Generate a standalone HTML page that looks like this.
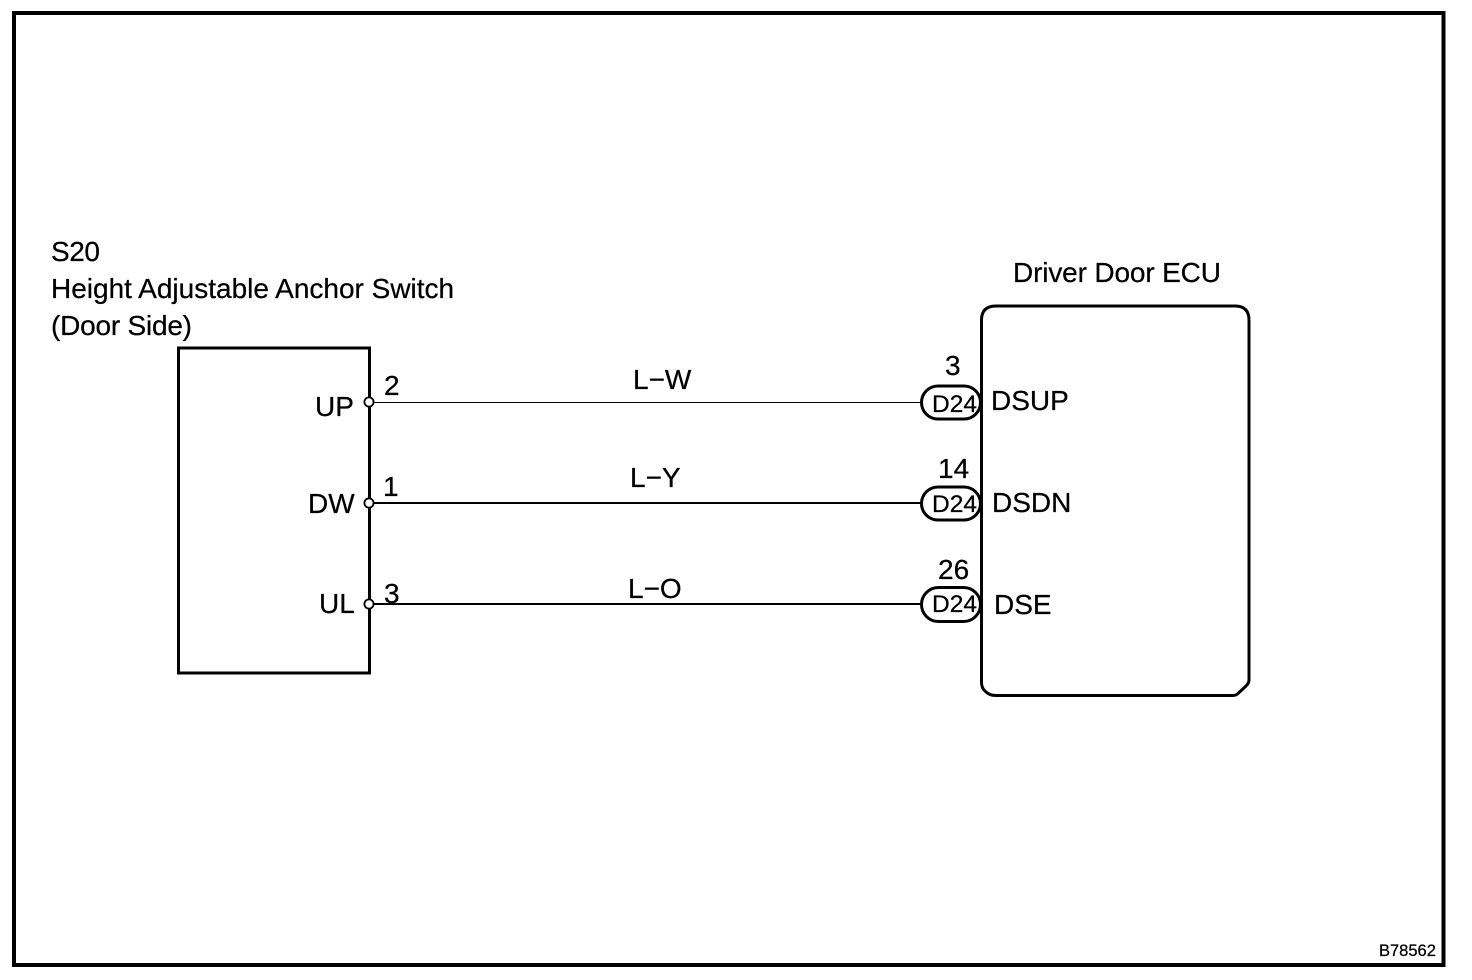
<!DOCTYPE html>
<html><head><meta charset="utf-8"><style>
html,body{margin:0;padding:0;background:#fff}
svg{display:block}
text{font-family:"Liberation Sans",sans-serif;fill:#000;stroke:#000;stroke-width:.25px;font-size:28px}
</style></head><body>
<svg width="1472" height="980" viewBox="0 0 1472 980" xmlns="http://www.w3.org/2000/svg">
<rect width="1472" height="980" fill="#fff"/>
<g shape-rendering="crispEdges">
<rect x="14" y="13" width="1429.500" height="952" fill="none" stroke="#000" stroke-width="4"/>
<rect x="178.500" y="348" width="191" height="325" fill="none" stroke="#000" stroke-width="3"/>
<rect x="374" y="402" width="547" height="1" fill="#000"/>
<line x1="374" y1="503" x2="921" y2="503" stroke="#000" stroke-width="2"/>
<line x1="374" y1="604" x2="921" y2="604" stroke="#000" stroke-width="2"/>
</g>
<path d="M981.500 320Q981.500 306 996 306H1235Q1249 306 1249 320V680Q1249 683 1246 686L1238 693.500Q1236 695.500 1233 695.500H996Q989 695.500 985 691Q981.500 688 981.500 682Z" fill="none" stroke="#000" stroke-width="3"/>
<g fill="#fff" stroke="#000" stroke-width="1.800">
<circle cx="369" cy="402" r="4.600"/><circle cx="369" cy="503" r="4.600"/><circle cx="369" cy="604" r="4.600"/>
</g>
<g fill="#fff" stroke="#000" stroke-width="3">
<rect x="921.500" y="386" width="59" height="33" rx="16.500"/>
<rect x="921.500" y="487" width="59" height="33" rx="16.500"/>
<rect x="921.500" y="587.500" width="59" height="34" rx="17"/>
</g>
<text x="51" y="261" textLength="49">S20</text>
<text x="51" y="298">Height Adjustable Anchor Switch</text>
<text x="51" y="335" textLength="141">(Door Side)</text>
<text x="1013" y="282" textLength="208">Driver Door ECU</text>
<text x="315" y="416">UP</text>
<text x="308" y="513">DW</text>
<text x="319" y="613">UL</text>
<text x="384" y="395">2</text>
<text x="383" y="496">1</text>
<text x="384" y="603">3</text>
<text x="633" y="389">L−W</text>
<text x="630" y="487">L−Y</text>
<text x="628" y="598">L−O</text>
<text x="945" y="375">3</text>
<text x="938" y="478">14</text>
<text x="938" y="579">26</text>
<text x="932" y="412" style="font-size:24.500px">D24</text>
<text x="932" y="512" style="font-size:24.500px">D24</text>
<text x="932" y="612" style="font-size:24.500px">D24</text>
<text x="991" y="410">DSUP</text>
<text x="992" y="512">DSDN</text>
<text x="994" y="614">DSE</text>
<text x="1379" y="956" style="font-size:16.500px">B78562</text>
</svg>
</body></html>
